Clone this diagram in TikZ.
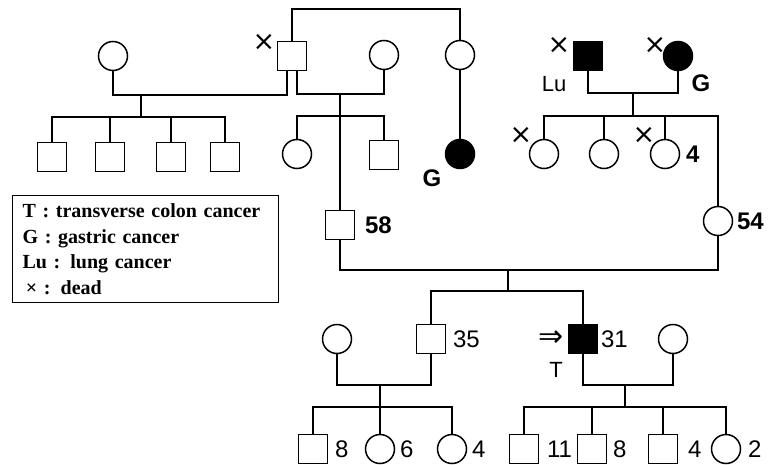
\documentclass[tikz,border=0pt]{standalone}
\usepackage{fontspec}
\setmainfont{Liberation Sans}
\newfontfamily\keyfont{Liberation Serif}
\newfontfamily\markfont{DejaVu Sans}
\usetikzlibrary{positioning}

\begin{document}
\begin{tikzpicture}[
  x=1pt, y=-1pt,
  line width=1.5pt,
  male/.style={draw, rectangle, minimum size=29pt, inner sep=0pt},
  female/.style={draw, circle, minimum size=29pt, inner sep=0pt},
  affected/.style={fill=black},
  tag/.style={font=\fontsize{22}{22}\selectfont, inner sep=0pt},
  agetag/.style={font=\fontsize{24}{24}\selectfont, inner sep=0pt},
  boldtag/.style={font=\fontsize{24}{24}\selectfont\bfseries, inner sep=0pt},
  deadmark/.style={font=\markfont\fontsize{27}{27}\selectfont, inner sep=0pt},
  key/.style={draw, line width=1.2pt, minimum width=266pt, minimum height=107pt, inner xsep=10pt, text width=246pt, align=left, font=\keyfont\bfseries\fontsize{20}{25.7}\selectfont}
]
\useasboundingbox (0,0) rectangle (768,465);

% first generation
\node[female] (gm1) at (113,56) {};
\node[male] (gf) at (292,56) {};
\node[deadmark] (gfx) at (264,42) {×};
\node[female] (gm2) at (384,55) {};
\node[female] (gfs) at (460,55) {};
\node[male, affected] (ggf) at (588,56) {};
\node[deadmark] (ggfx) at (559,45) {×};
\node[tag] (ggflu) at (554,84) {Lu};
\node[female, affected] (ggm) at (678,56) {};
\node[deadmark] (ggmx) at (655,45) {×};
\node[boldtag] (ggmg) at (701,83) {G};

% second generation
\node[male] (c11) at (52,157) {};
\node[male] (c12) at (110,157) {};
\node[male] (c13) at (171,157) {};
\node[male] (c14) at (225,157) {};
\node[female] (c21) at (297,154) {};
\node[male] (c22) at (384,155) {};
\node[female, affected] (aunt) at (460,154) {};
\node[boldtag] (auntg) at (432,178) {G};
\node[female] (c31) at (544,154) {};
\node[deadmark] (c31x) at (521,135) {×};
\node[female] (c32) at (604,154) {};
\node[female] (c33) at (665,154) {};
\node[deadmark] (c33x) at (644,135) {×};
\node[boldtag, right=5pt of c33] (c33age) {4};

% parents
\node[male] (p1) at (340,225) {};
\node[boldtag, right=9pt of p1] (p1age) {58};
\node[female] (p2) at (718,221) {};
\node[boldtag, right=3pt of p2] (p2age) {54};

% third generation
\node[female] (w1) at (337,339) {};
\node[male] (b1) at (431,339) {};
\node[agetag, right=6pt of b1] (b1age) {35};
\node[male, affected] (prob) at (583,339) {};
\node[agetag, right=2pt of prob] (probage) {31};
\node[font=\markfont\fontsize{30}{30}\selectfont, inner sep=0pt, left=3pt of prob] (arrow) {⇒};
\node[tag] (probt) at (556,370) {T};
\node[female] (w2) at (673,339) {};

% fourth generation
\node[male] (g1) at (313,449) {};
\node[agetag, right=6pt of g1] (g1age) {8};
\node[female] (g2) at (380,449) {};
\node[agetag, right=4pt of g2] (g2age) {6};
\node[female] (g3) at (452,449) {};
\node[agetag, right=4pt of g3] (g3age) {4};
\node[male] (g4) at (524,449) {};
\node[agetag, right=7pt of g4] (g4age) {11};
\node[male] (g5) at (592,449) {};
\node[agetag, right=5pt of g5] (g5age) {8};
\node[male] (g6) at (663,449) {};
\node[agetag, right=9pt of g6] (g6age) {4};
\node[female] (g7) at (726,449) {};
\node[agetag, right=6pt of g7] (g7age) {2};

% legend
\node[key, anchor=north west] (legend) at (12,195) {T : transverse colon cancer\\G : gastric cancer\\Lu : lung cancer\\\,× : dead};

% lines
\coordinate (sibtop) at (375,9);
\draw (gf.north) |- (sibtop) -| (gfs.north);
\draw (gfs.south) -- (aunt.north);

\coordinate (m1) at (141,95);
\coordinate (s1) at (141,117);
\draw (gm1.south) |- (m1) -| ([xshift=-5pt]gf.south);
\draw (m1) -- (s1);
\draw (c11.north) |- (s1) -| (c14.north);
\foreach \c in {c12,c13} \draw (\c.north) -- (\c.north |- s1);

\coordinate (m2) at (340,94);
\coordinate (s2) at (340,116);
\draw ([xshift=5pt]gf.south) |- (m2) -| (gm2.south);
\draw (c21.north) |- (s2) -| (c22.north);
\draw (m2) -- (p1.north);

\coordinate (m3) at (633,93);
\coordinate (s3) at (633,116);
\draw (ggf.south) |- (m3) -| (ggm.south);
\draw (m3) -- (s3);
\draw (c31.north) |- (s3) -| (p2.north);
\foreach \c in {c32,c33} \draw (\c.north) -- (\c.north |- s3);

\coordinate (m4) at (508,270);
\coordinate (s4) at (508,291);
\draw (p1.south) |- (m4) -| (p2.south);
\draw (m4) -- (s4);
\draw (b1.north) |- (s4) -| (prob.north);

\coordinate (m5) at (380,385);
\coordinate (s5) at (380,407);
\draw (w1.south) |- (m5) -| (b1.south);
\draw (m5) -- (s5);
\draw (g1.north) |- (s5) -| (g3.north);
\draw (s5) -- (g2.north);

\coordinate (m6) at (625,385);
\coordinate (s6) at (625,407);
\draw (prob.south) |- (m6) -| (w2.south);
\draw (m6) -- (s6);
\draw (g4.north) |- (s6) -| (g7.north);
\foreach \c in {g5,g6} \draw (\c.north) -- (\c.north |- s6);
\end{tikzpicture}
\end{document}
